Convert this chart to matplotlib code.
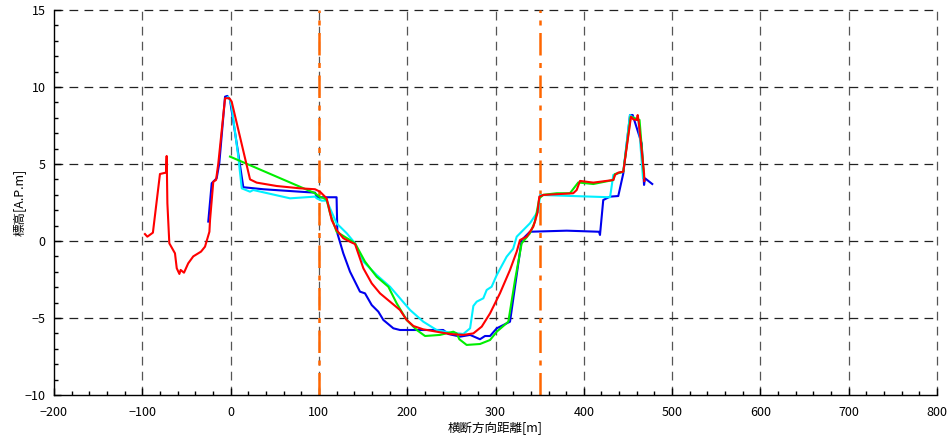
import matplotlib
matplotlib.use("Agg")
import matplotlib.pyplot as plt
from matplotlib.ticker import MultipleLocator

plt.rcParams['font.family'] = ['Noto Sans CJK JP', 'DejaVu Sans']

# ---- data ----
blue_x = [-25.3, -21.4, -15.8, -12.8, -6.3, -3.7, -0.7, 6.9, 14.4, 37, 78.6, 95.6, 97.5, 99.3, 120.0,
          120.9, 127.6, 135.2, 146.5, 152.2, 159.8, 167.3, 173.0, 184.3, 191.8, 229.5, 240.8, 246.5,
          260.0, 271.2, 282.4, 288.1, 293.8, 301.4, 312.6, 316.4, 329.6, 339.0, 380.6, 417.2, 418.3,
          422.0, 429.7, 439.0, 444.7, 452.3, 455.3, 465.5, 468.2, 469.3, 477.5]
blue_y = [1.26, 3.75, 4.07, 5.05, 9.37, 9.42, 9.16, 6.34, 3.49, 3.36, 3.2, 3.14, 2.88, 2.84, 2.84,
          0.5, -0.8, -1.99, -3.29, -3.4, -4.16, -4.59, -5.13, -5.67, -5.78, -5.78, -5.78, -6.04,
          -6.21, -6.1, -6.38, -6.17, -6.17, -5.67, -5.35, -5.24, 0.06, 0.6, 0.67, 0.6, 0.39,
          2.66, 2.88, 2.92, 4.39, 8.18, 8.18, 6.34, 3.64, 4.07, 3.7]

cyan_x = [-3.0, -0.7, 1.2, 8.7, 12.6, 22.0, 25.6, 67.3, 95.6, 97.5, 103.2, 108.8, 120.0, 131.5,
          140.9, 150.3, 165.4, 180.5, 191.8, 203.2, 218.2, 233.3, 248.5, 263.5, 271.2, 274.9,
          278.7, 286.2, 290.0, 295.6, 301.4, 312.6, 320.0, 324.0, 339.0, 346.6, 348.4, 350.4,
          429.7, 433.4, 444.7, 452.3, 456.0, 462.0, 467.0]
cyan_y = [9.35, 9.16, 8.72, 5.48, 3.42, 3.2, 3.31, 2.77, 2.88, 2.77, 2.62, 2.62, 1.15, 0.5,
          -0.15, -1.34, -2.21, -2.97, -3.72, -4.48, -5.24, -5.78, -5.95, -6.04, -5.67, -4.22,
          -3.94, -3.72, -3.18, -2.97, -2.21, -1.02, -0.5, 0.28, 1.15, 1.8, 1.9, 2.99,
          2.84, 4.29, 4.5, 8.18, 8.0, 7.8, 4.1]

green_x = [-0.7, 95.6, 101.2, 105.0, 108.8, 112.6, 120.0, 135.2, 140.9, 152.2, 165.4, 178.6,
           188.1, 199.4, 210.8, 220.2, 237.1, 252.2, 256.0, 259.0, 267.3, 282.4, 293.8, 301.4,
           314.5, 322.1, 329.6, 339.0, 344.7, 349.6, 354.2, 369.4, 384.3, 393.7, 410.8, 433.4,
           435.3, 444.7, 453.0, 463.1, 468.2]
green_y = [5.48, 3.1, 2.85, 2.8, 2.66, 1.8, 0.6, 0.06, -0.15, -1.34, -2.32, -2.97,
           -4.05, -5.13, -5.78, -6.17, -6.1, -5.89, -6.0, -6.38, -6.75, -6.69, -6.43, -5.89,
           -5.24, -2.53, -0.15, 0.5, 1.26, 2.77, 3.0, 3.1, 3.1, 3.8, 3.7, 3.96,
           4.35, 4.5, 8.07, 7.86, 4.2]

red_x = [-97.0, -94.3, -88.0, -80.0, -73.2, -72.4, -71.6, -69.4, -63.0, -61.0, -58.0, -56.6,
         -52.8, -48.0, -42.3, -33.5, -29.0, -24.0, -23.3, -19.6, -16.5, -13.9, -6.3, -1.4, 1.2,
         10.6, 22.0, 29.5, 52.2, 78.6, 95.6, 101.2, 108.8, 114.5, 120.0, 127.6, 135.2, 140.9,
         150.3, 159.8, 169.2, 180.5, 191.8, 199.4, 207.0, 218.2, 233.3, 248.5, 263.5, 274.9,
         284.4, 293.8, 305.0, 316.4, 324.0, 327.7, 335.3, 342.8, 347.4, 349.6, 354.2, 373.0,
         388.0, 391.9, 395.7, 410.8, 433.4, 435.3, 439.0, 444.7, 453.4, 456.0, 459.9, 461.0,
         462.1, 468.2, 468.5]
red_y = [0.45, 0.28, 0.54, 4.35, 4.44, 5.52, 2.45, -0.15, -0.8, -1.77, -2.14, -1.88,
         -2.06, -1.45, -1.0, -0.69, -0.37, 0.6, 1.36, 3.85, 3.96, 5.05, 9.27, 9.27, 9.05,
         6.77, 4.0, 3.79, 3.57, 3.42, 3.36, 3.2, 2.77, 1.36, 0.71, 0.18, -0.05, -0.2,
         -1.77, -2.75, -3.4, -3.94, -4.48, -5.13, -5.52, -5.74, -5.89, -6.04, -6.1, -6.0,
         -5.56, -4.7, -3.4, -1.88, -0.69, 0.06, 0.28, 0.93, 1.8, 2.88, 2.99, 3.05,
         3.1, 3.31, 3.9, 3.79, 3.96, 4.29, 4.44, 4.5, 8.07, 7.9, 7.86, 8.18,
         7.75, 4.39, 3.9]

ref_lines_x = [100, 350]

xlabel = '横断方向距離[m]'
ylabel = '標高[A.P.m]'

# ---- plot ----
fig = plt.figure(figsize=(9.49, 4.44), dpi=100)
ax = fig.add_axes([0.0569, 0.1104, 0.9305, 0.8671])
ax.set_xlim(-200, 800)
ax.set_ylim(-10, 15)

# grid
for gx in range(-100, 801, 100):
    ax.plot([gx, gx], [-10, 15], color='#555555', lw=0.9, dashes=(7, 5), clip_on=False, zorder=1)
for gy in range(-5, 16, 5):
    ax.plot([-200, 800], [gy, gy], color='#222222', lw=0.9, dashes=(7, 5), clip_on=False, zorder=1)

for rx in ref_lines_x:
    ax.axvline(rx, color='#FF6600', lw=1.8, dashes=(9, 3, 2, 3), zorder=2)

ax.plot(blue_x, blue_y, color='#0000EE', lw=1.5, zorder=3)
ax.plot(cyan_x, cyan_y, color='#00F0FF', lw=1.5, zorder=3)
ax.plot(green_x, green_y, color='#00EE00', lw=1.5, zorder=3)
ax.plot(red_x, red_y, color='#FF0000', lw=1.5, zorder=4)

ax.spines['top'].set_visible(False)
ax.spines['right'].set_visible(False)
ax.spines['left'].set_linewidth(1.0)
ax.spines['bottom'].set_linewidth(1.0)

ax.xaxis.set_major_locator(MultipleLocator(100))
ax.xaxis.set_minor_locator(MultipleLocator(20))
ax.yaxis.set_major_locator(MultipleLocator(5))
ax.yaxis.set_minor_locator(MultipleLocator(1))
ax.tick_params(which='major', direction='in', length=5, width=1, labelsize=9, pad=6)
ax.tick_params(which='minor', direction='in', length=3, width=1)
ax.tick_params(axis='x', pad=8)

ax.set_xlabel(xlabel, fontsize=9, labelpad=2)
ax.set_ylabel(ylabel, fontsize=9)
ax.yaxis.set_label_coords(-0.032, 0.5)

fig.savefig('out.png', dpi=100)
